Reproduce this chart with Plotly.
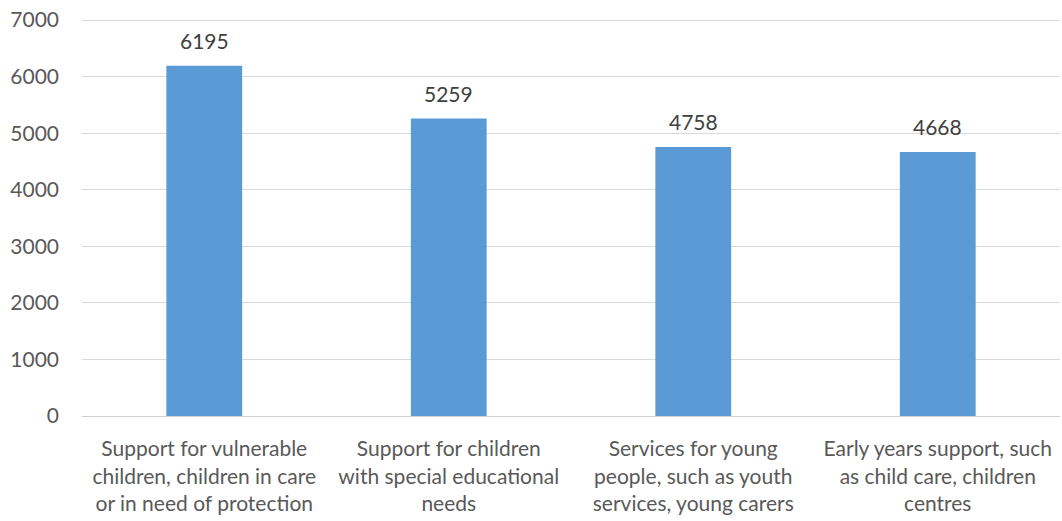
import plotly.graph_objects as go

categories = [
    "Support for vulnerable<br>children, children in care<br>or in need of protection",
    "Support for children<br>with special educational<br>needs",
    "Services for young<br>people, such as youth<br>services, young carers",
    "Early years support, such<br>as child care, children<br>centres",
]
values = [6195, 5259, 4758, 4668]
y_ticks = [0, 1000, 2000, 3000, 4000, 5000, 6000, 7000]

FONT = "Lato"
GRAY = "#595959"

fig = go.Figure(
    go.Bar(
        x=categories,
        y=values,
        marker=dict(color="#5B9BD5", line=dict(width=0)),
        cliponaxis=False,
    )
)

for c, v in zip(categories, values):
    fig.add_annotation(
        x=c, y=v, text=str(v), showarrow=False,
        yanchor="bottom", yshift=11,
        font=dict(family=FONT, size=21, color="#404040"),
    )

fig.update_layout(
    width=1062,
    height=521,
    margin=dict(l=82, r=2, t=19, b=105, autoexpand=False),
    paper_bgcolor="white",
    plot_bgcolor="white",
    bargap=0.69,
    showlegend=False,
    font=dict(family=FONT, size=21, color=GRAY),
    xaxis=dict(
        showgrid=False,
        showline=True,
        linecolor="#D0D0D0",
        linewidth=1,
        ticks="",
        tickfont=dict(family=FONT, size=21, color=GRAY),
        ticklabelstandoff=14,
        ticklabeloverflow="allow",
        automargin=False,
    ),
    yaxis=dict(
        range=[0, 7020],
        tickvals=y_ticks,
        ticktext=[str(t) for t in y_ticks],
        showgrid=True,
        gridcolor="#D9D9D9",
        gridwidth=1,
        zeroline=False,
        showline=False,
        ticks="",
        tickfont=dict(family=FONT, size=21, color=GRAY),
        ticklabelstandoff=22,
        ticklabeloverflow="allow",
        automargin=False,
    ),
)

fig.write_html(
    "out.html",
    config={"displayModeBar": False},
    post_script="document.body.style.margin='0';",
)
